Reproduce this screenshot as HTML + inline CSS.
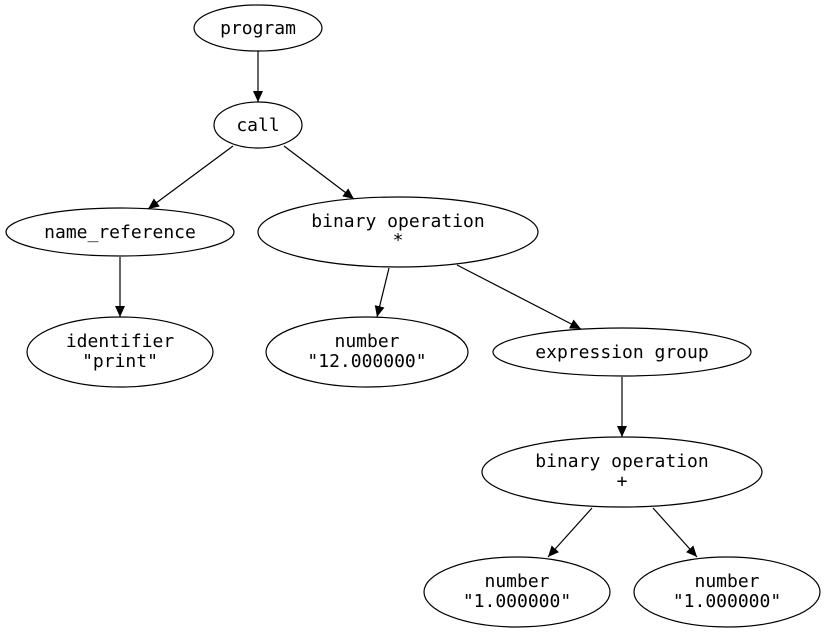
<!DOCTYPE html>
<html><head><meta charset="utf-8"><style>
html,body{margin:0;padding:0;background:#fff}
svg{display:block}
text{font-family:"DejaVu Sans Mono","Liberation Mono",monospace;font-size:18px;fill:#000;text-anchor:middle}
ellipse{fill:none;stroke:#000;stroke-width:1.2}
line{stroke:#000;stroke-width:1.2}
</style></head><body>
<svg width="826" height="633" viewBox="0 0 826 633" xmlns="http://www.w3.org/2000/svg">
<defs><marker id="a" markerUnits="userSpaceOnUse" markerWidth="12" markerHeight="10" refX="11" refY="5" orient="auto"><path d="M0,0 L11,5 L0,10 Z" fill="#000"/></marker></defs>
<ellipse cx="258" cy="28" rx="64" ry="23"/>
<text x="258" y="34">program</text>
<ellipse cx="258" cy="125" rx="44" ry="23"/>
<text x="258" y="131">call</text>
<ellipse cx="120" cy="232" rx="114" ry="24"/>
<text x="120" y="238">name_reference</text>
<ellipse cx="398" cy="232" rx="140" ry="35"/>
<text x="398" y="227">binary operation</text>
<text x="398" y="246">*</text>
<ellipse cx="120" cy="352" rx="93" ry="35"/>
<text x="120" y="347">identifier</text>
<text x="120" y="367">"print"</text>
<ellipse cx="367" cy="352" rx="101" ry="35"/>
<text x="367" y="347">number</text>
<text x="367" y="367">"12.000000"</text>
<ellipse cx="622" cy="352" rx="129" ry="24"/>
<text x="622" y="358">expression group</text>
<ellipse cx="622" cy="472" rx="140" ry="35"/>
<text x="622" y="467">binary operation</text>
<text x="622" y="487">+</text>
<ellipse cx="517" cy="592" rx="93" ry="35"/>
<text x="517" y="587">number</text>
<text x="517" y="607">"1.000000"</text>
<ellipse cx="727" cy="592" rx="93" ry="35"/>
<text x="727" y="587">number</text>
<text x="727" y="607">"1.000000"</text>
<line x1="258" y1="51" x2="258" y2="102" marker-end="url(#a)"/>
<line x1="233" y1="146" x2="148" y2="209" marker-end="url(#a)"/>
<line x1="284" y1="146" x2="354" y2="199" marker-end="url(#a)"/>
<line x1="120" y1="257" x2="120" y2="317" marker-end="url(#a)"/>
<line x1="389" y1="268" x2="377" y2="317" marker-end="url(#a)"/>
<line x1="457" y1="265" x2="581" y2="329" marker-end="url(#a)"/>
<line x1="622" y1="377" x2="622" y2="437" marker-end="url(#a)"/>
<line x1="592" y1="508" x2="548" y2="557" marker-end="url(#a)"/>
<line x1="653" y1="508" x2="697" y2="557" marker-end="url(#a)"/>
</svg>
</body></html>
